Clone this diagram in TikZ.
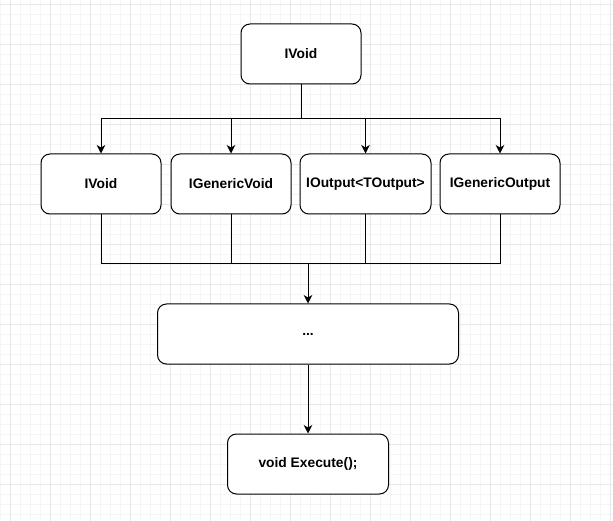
\documentclass[tikz,border=0pt]{standalone}
\usepackage{fontspec}
\setmainfont{Liberation Sans}
\usetikzlibrary{arrows.meta}
\begin{document}
\begin{tikzpicture}[x=1pt,y=-1pt,
  box/.style={draw=black,line width=1pt,fill=white,rounded corners=9pt,
    minimum height=60pt,inner sep=0pt,font=\fontsize{13.8pt}{16pt}\selectfont\bfseries},
  conn/.style={draw=black,line width=1pt},
  arr/.style={conn,-{Stealth[length=8.5pt,width=8.5pt,inset=2.5pt]}}]
\useasboundingbox[fill=white] (0,0) rectangle (613,521);
% grid
\foreach \x in {0,10,...,610} \draw[line width=0.8pt,black!4] (\x,0) -- (\x,521);
\foreach \y in {4,14,...,521} \draw[line width=0.8pt,black!4] (0,\y) -- (613,\y);
\foreach \x in {10,50,...,610} \draw[line width=0.8pt,black!9] (\x,0) -- (\x,521);
\foreach \y in {4,44,...,521} \draw[line width=0.8pt,black!9] (0,\y) -- (613,\y);
% nodes
\node[box,minimum width=120pt] (top) at (301,54) {IVoid};
\node[box,minimum width=120pt] (c1) at (101,184) {IVoid};
\node[box,minimum width=120pt] (c2) at (231,184) {IGenericVoid};
\node[box,minimum width=131pt] (c3) at (365.5,184) {IOutput<TOutput>};
\node[box,minimum width=120pt] (c4) at (500,184) {IGenericOutput};
\node[box,minimum width=301pt] (dots) at (308,334) {...};
\node[box,minimum width=161pt] (exec) at (308,464) {void Execute();};
\coordinate (split) at (301,119);
\coordinate (join) at (308,264);
% connectors
\draw[conn] (top.south) -- (split);
\foreach \c in {c1,c2,c3,c4} \draw[arr] (split) -| (\c.north);
\foreach \c in {c1,c2,c3,c4} \draw[conn] (\c.south) |- (join);
\draw[arr] (join) -- (dots.north);
\draw[arr] (dots.south) -- (exec.north);
\end{tikzpicture}
\end{document}
